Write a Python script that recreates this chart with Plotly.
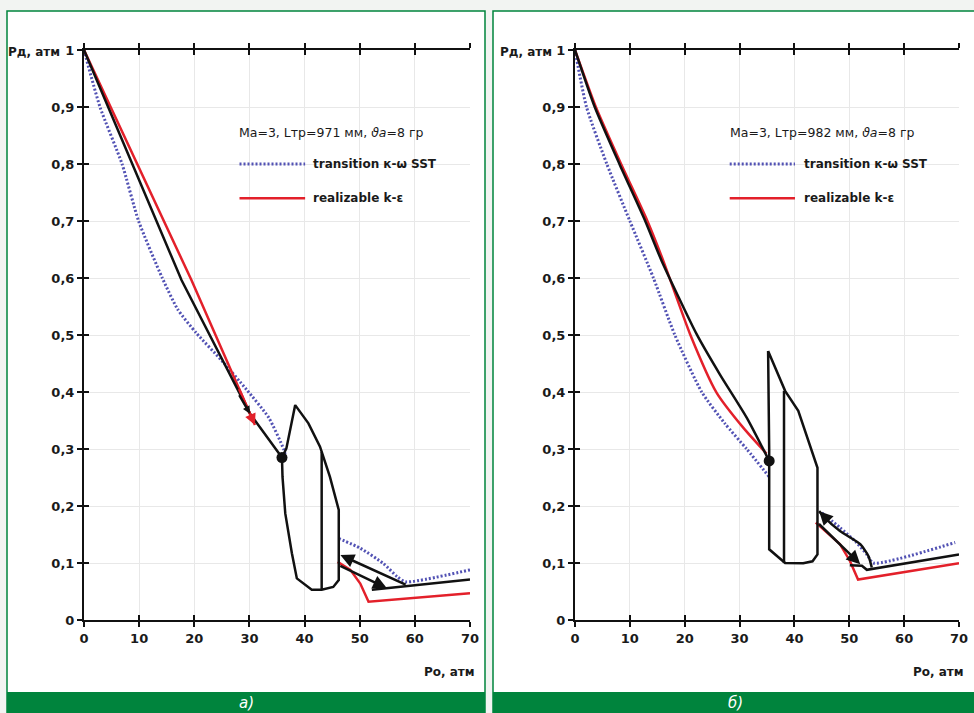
import plotly.graph_objects as go

# ---------------- data : panel а) ----------------
a_black_x = [0, 8.7, 17.7, 30.1, 35.9]
a_black_y = [1, 0.8, 0.596, 0.362, 0.285]
a_red_x = [0, 9.7, 19.5, 31.0]
a_red_y = [1, 0.8, 0.596, 0.342]
a_blue_x = [0, 2.9, 6.9, 9.9, 14.2, 17.0, 20.4, 25.0, 29.5, 33.5, 36.2, 36.5]
a_blue_y = [1, 0.9, 0.8, 0.7, 0.6, 0.545, 0.503, 0.455, 0.404, 0.355, 0.30, 0.29]
a_shape_x = [35.9, 36.7, 38.3, 40.7, 42.8, 44.6, 46.2, 46.2, 45.2, 43.1, 41.3, 38.6, 37.7, 36.5, 36.0, 35.9]
a_shape_y = [0.285, 0.301, 0.377, 0.345, 0.304, 0.251, 0.193, 0.070, 0.058, 0.053, 0.053, 0.073, 0.117, 0.187, 0.251, 0.285]
a_inner_x = [43.1, 43.1]
a_inner_y = [0.053, 0.295]
a_blue2_x = [46.2, 50.1, 54.3, 56.8, 58.3, 70]
a_blue2_y = [0.143, 0.126, 0.099, 0.076, 0.067, 0.088]
a_red2_x = [46.0, 48.3, 50.1, 51.6, 70]
a_red2_y = [0.102, 0.088, 0.064, 0.032, 0.047]
a_base_x = [52.2, 70]
a_base_y = [0.053, 0.071]
a_dot_x = [35.9]
a_dot_y = [0.285]
# arrows: (head x, head y, tail x, tail y, colour, size)
a_arrows = [(31.0, 0.342, 28.0, 0.408, "#e3202a", 0.9),
            (30.1, 0.362, 28.0, 0.397, "#111111", 0.6),
            (46.5, 0.114, 58.6, 0.061, "#111111", 1.1),
            (54.9, 0.056, 46.2, 0.096, "#111111", 1.1)]
a_title = "Ma=3, Lтр=971 мм, <i>ϑa</i>=8 гр"

# ---------------- data : panel б) ----------------
b_black_x = [0, 3.6, 8.1, 12.8, 15.8, 22.2, 26.4, 31.3, 35.4]
b_black_y = [1, 0.9, 0.8, 0.7, 0.63, 0.501, 0.431, 0.355, 0.279]
b_red_x = [0, 3.8, 8.4, 13.2, 16.1, 21.0, 25.8, 30.7, 34.9]
b_red_y = [1, 0.9, 0.8, 0.7, 0.63, 0.501, 0.399, 0.337, 0.292]
b_blue_x = [0, 2.1, 5.8, 10.0, 14.3, 18.2, 23.1, 27.3, 31.3, 35.5]
b_blue_y = [1, 0.9, 0.8, 0.7, 0.6, 0.5, 0.4, 0.345, 0.3, 0.25]
b_shape_x = [35.2, 35.4, 35.4, 38.3, 41.6, 43.3, 44.2, 44.2, 40.7, 38.3, 35.2]
b_shape_y = [0.472, 0.30, 0.124, 0.100, 0.0995, 0.103, 0.115, 0.267, 0.367, 0.402, 0.472]
b_inner_x = [38.1, 38.1]
b_inner_y = [0.100, 0.402]
b_blue2_x = [45.0, 48.3, 51.3, 53.2, 54.4, 69.3]
b_blue2_y = [0.188, 0.162, 0.136, 0.115, 0.100, 0.136]
b_red2_x = [43.9, 48.3, 50.1, 51.6, 70]
b_red2_y = [0.171, 0.133, 0.104, 0.071, 0.0995]
b_arc_x = [44.5, 45.3, 48.3, 52.0, 53.5, 54.1]
b_arc_y = [0.191, 0.182, 0.156, 0.133, 0.112, 0.092]
b_base_x = [50.1, 52.3, 53.2, 70]
b_base_y = [0.096, 0.095, 0.088, 0.115]
b_dot_x = [35.4]
b_dot_y = [0.279]
b_arrows = [(44.5, 0.191, 45.6, 0.180, "#111111", 1.1),
            (52.0, 0.098, 44.2, 0.171, "#111111", 1.1)]
b_title = "Ma=3, Lтр=982 мм, <i>ϑa</i>=8 гр"

# legend labels / ticks
series_names = ["transition к-ω SST", "realizable k-ε"]
x_ticks = [0, 10, 20, 30, 40, 50, 60, 70]
y_ticks = [0, 0.1, 0.2, 0.3, 0.4, 0.5, 0.6, 0.7, 0.8, 0.9, 1]
panel_labels = ["а)", "б)"]

BLACK = "#111111"
RED = "#e3202a"
BLUE = "#5252b4"
GREEN = "#00843d"
FONT = "DejaVu Sans"

W, H = 974, 713
fig = go.Figure()


def line(x, y, color, width, xa, ya, dash=None, smooth=False):
    fig.add_trace(go.Scatter(x=x, y=y, mode="lines", xaxis=xa, yaxis=ya,
                             line=dict(color=color, width=width, dash=dash,
                                       shape="spline" if smooth else "linear",
                                       smoothing=0.6 if smooth else None),
                             hoverinfo="skip", showlegend=False))


DOT = "2px,2px"
panels = [
    ("x", "y", dict(black=(a_black_x, a_black_y, False), red=(a_red_x, a_red_y, False),
                    blue=(a_blue_x, a_blue_y), shape=(a_shape_x, a_shape_y), inner=(a_inner_x, a_inner_y),
                    blue2=(a_blue2_x, a_blue2_y), red2=(a_red2_x, a_red2_y),
                    base=(a_base_x, a_base_y), dot=(a_dot_x, a_dot_y), arc=None)),
    ("x2", "y2", dict(black=(b_black_x, b_black_y, True), red=(b_red_x, b_red_y, True),
                      blue=(b_blue_x, b_blue_y), shape=(b_shape_x, b_shape_y), inner=(b_inner_x, b_inner_y),
                      blue2=(b_blue2_x, b_blue2_y), red2=(b_red2_x, b_red2_y),
                      base=(b_base_x, b_base_y), dot=(b_dot_x, b_dot_y), arc=(b_arc_x, b_arc_y))),
]
for xa, ya, d in panels:
    line(*d["blue"], BLUE, 3, xa, ya, DOT, smooth=True)
    line(*d["blue2"], BLUE, 3, xa, ya, DOT, smooth=True)
    line(d["red"][0], d["red"][1], RED, 2.5, xa, ya, smooth=d["red"][2])
    line(*d["red2"], RED, 2.5, xa, ya)
    line(d["black"][0], d["black"][1], BLACK, 2.5, xa, ya, smooth=d["black"][2])
    line(*d["shape"], BLACK, 2.5, xa, ya)
    line(*d["inner"], BLACK, 2.5, xa, ya)
    line(*d["base"], BLACK, 2.5, xa, ya)
    if d["arc"] is not None:
        line(*d["arc"], BLACK, 2.5, xa, ya, smooth=True)
    fig.add_trace(go.Scatter(x=d["dot"][0], y=d["dot"][1], mode="markers", xaxis=xa, yaxis=ya,
                             marker=dict(color=BLACK, size=11), hoverinfo="skip", showlegend=False))

# dummy traces for overlay (crossing ticks) axes
fig.add_trace(go.Scatter(x=[None], y=[None], xaxis="x3", yaxis="y3", showlegend=False, hoverinfo="skip"))
fig.add_trace(go.Scatter(x=[None], y=[None], xaxis="x4", yaxis="y4", showlegend=False, hoverinfo="skip"))

tickfont = dict(family=FONT, size=13, color="#1a1a1a", weight="bold")
common_x = dict(range=[0, 70], tickvals=x_ticks, showgrid=True, gridcolor="#e8e8e8", gridwidth=1,
                zeroline=False, showline=True, linecolor=BLACK, linewidth=2, mirror="ticks",
                ticks="outside", ticklen=5, tickwidth=2, tickcolor=BLACK, tickfont=tickfont,
                fixedrange=True, automargin=False)
common_y = dict(range=[0, 1], tickvals=y_ticks, showgrid=True, gridcolor="#e8e8e8", gridwidth=1,
                zeroline=False, showline=True, linecolor=BLACK, linewidth=2, mirror=False,
                ticks="outside", ticklen=5, tickwidth=2, tickcolor=BLACK, tickfont=tickfont,
                fixedrange=True, automargin=False)
over_x = dict(range=[0, 70], tickvals=x_ticks, showgrid=False, zeroline=False, showline=False,
              mirror="ticks", ticks="inside", ticklen=5, tickwidth=2, tickcolor=BLACK,
              showticklabels=False, fixedrange=True, automargin=False)
over_y = dict(range=[0, 1], tickvals=y_ticks, showgrid=False, zeroline=False, showline=False,
              ticks="inside", ticklen=5, tickwidth=2, tickcolor=BLACK, showticklabels=False,
              fixedrange=True, automargin=False)

ya_dom = [1 - 620 / H, 1 - 50 / H]
xa_dom = [84 / W, 470 / W]
xb_dom = [575 / W, 959 / W]

fig.update_layout(
    template="none",
    width=W, height=H, autosize=False, margin=dict(l=0, r=0, t=0, b=0, pad=0),
    paper_bgcolor="#f2f4f2", plot_bgcolor="rgba(0,0,0,0)",
    separators=", ",
    font=dict(family=FONT, color="#1a1a1a"),
    xaxis=dict(domain=xa_dom, anchor="y", **common_x),
    yaxis=dict(domain=ya_dom, anchor="x", **common_y),
    xaxis2=dict(domain=xb_dom, anchor="y2", **common_x),
    yaxis2=dict(domain=ya_dom, anchor="x2", **common_y),
    xaxis3=dict(overlaying="x", anchor="y", **over_x),
    yaxis3=dict(overlaying="y", anchor="x", **over_y),
    xaxis4=dict(overlaying="x2", anchor="y2", **over_x),
    yaxis4=dict(overlaying="y2", anchor="x2", **over_y),
    showlegend=False,
)

shapes = []
# panel backgrounds, borders and bottom bars
for x0, x1 in [(7, 485), (493, 985)]:
    shapes.append(dict(type="rect", xref="paper", yref="paper", x0=x0 / W, x1=x1 / W, y0=-0.05, y1=1 - 11 / H,
                       fillcolor="white", line=dict(color=GREEN, width=1.5), layer="below"))
    shapes.append(dict(type="rect", xref="paper", yref="paper", x0=x0 / W, x1=x1 / W, y0=-0.05, y1=1 - 692 / H,
                       fillcolor=GREEN, line=dict(width=0), layer="below"))

annotations = []
for xr, yr, title, x_txt in [("x", "y", a_title, 41.2), ("x2", "y2", b_title, 41.4)]:
    annotations.append(dict(x=27.8, y=0.856, xref=xr, yref=yr, text=title, showarrow=False,
                            xanchor="left", yanchor="middle",
                            font=dict(family=FONT, size=12.5, color="#1a1a1a")))
    shapes.append(dict(type="line", xref=xr, yref=yr, x0=28.2, x1=40.1, y0=0.80, y1=0.80,
                       line=dict(color=BLUE, width=3, dash=DOT)))
    shapes.append(dict(type="line", xref=xr, yref=yr, x0=28.2, x1=40.1, y0=0.74, y1=0.74,
                       line=dict(color=RED, width=2.5)))
    annotations.append(dict(x=x_txt, y=0.80, xref=xr, yref=yr, text=series_names[0], showarrow=False,
                            xanchor="left", yanchor="middle",
                            font=dict(family=FONT, size=12, color="#1a1a1a", weight="bold")))
    annotations.append(dict(x=x_txt, y=0.74, xref=xr, yref=yr, text=series_names[1], showarrow=False,
                            xanchor="left", yanchor="middle",
                            font=dict(family=FONT, size=12, color="#1a1a1a", weight="bold")))

# axis titles
for px0, px_right in [(62, 477), (554, 966)]:
    annotations.append(dict(x=px0 / W, y=1 - 52 / H, xref="paper", yref="paper", text="Рд, атм",
                            showarrow=False, xanchor="right", yanchor="middle",
                            font=dict(family=FONT, size=12, color="#1a1a1a", weight="bold")))
    annotations.append(dict(x=px_right / W, y=1 - 672 / H, xref="paper", yref="paper", text="Ро, атм",
                            showarrow=False, xanchor="right", yanchor="middle",
                            font=dict(family=FONT, size=12, color="#1a1a1a", weight="bold")))

# panel labels
for cx, lab in zip([246, 735], panel_labels):
    annotations.append(dict(x=cx / W, y=1 - 703 / H, xref="paper", yref="paper", text="<i>" + lab + "</i>",
                            showarrow=False, xanchor="center", yanchor="middle",
                            font=dict(family=FONT, size=15, color="white")))

# arrows
for xr, yr, arrs in [("x", "y", a_arrows), ("x2", "y2", b_arrows)]:
    for hx, hy, tx, ty, col, sz in arrs:
        annotations.append(dict(x=hx, y=hy, ax=tx, ay=ty, xref=xr, yref=yr, axref=xr, ayref=yr, text="",
                                showarrow=True, arrowhead=2, arrowsize=sz, arrowwidth=2.5, arrowcolor=col,
                                standoff=0, startstandoff=0))

fig.update_layout(shapes=shapes, annotations=annotations)

post = """
document.documentElement.style.margin='0';
document.documentElement.style.overflow='hidden';
document.body.style.margin='0';
document.body.style.overflow='hidden';
"""
fig.write_html("out.html", config=dict(displayModeBar=False), post_script=post)
